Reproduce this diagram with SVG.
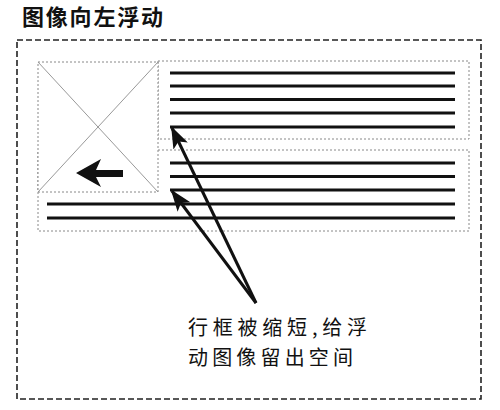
<svg xmlns="http://www.w3.org/2000/svg" width="500" height="410" viewBox="0 0 500 410">
<style>
.title{font-family:"Noto Sans CJK SC","Noto Sans",sans-serif;font-size:22px;font-weight:bold;fill:#111}
.label{font-family:"Noto Sans CJK SC","Noto Sans",sans-serif;font-size:20px;fill:#111}
.outer{fill:none;stroke:#222;stroke-width:1.6;stroke-dasharray:6 3}
.box{fill:none;stroke:#888;stroke-width:1;stroke-dasharray:2 2}
.line{stroke:#111;stroke-width:3}
.diag{stroke:#999;stroke-width:1}
.ptr{stroke:#111;stroke-width:3;fill:none;marker-end:url(#ah)}
</style>
<defs>
<marker id="ah" viewBox="0 0 22 16" refX="20" refY="8" markerWidth="22" markerHeight="16" markerUnits="userSpaceOnUse" orient="auto">
<path d="M0,0 L22,8 L0,16 L5,8 Z" fill="#111"/>
</marker>
</defs>
<rect width="500" height="410" fill="#fff"/>
<text class="title" x="22" y="25" textLength="141">图像向左浮动</text>
<rect class="outer" x="17" y="40" width="464" height="359"/>
<g id="lower-box">
<rect class="box" x="38" y="150" width="431" height="81"/>
<line class="line" x1="170" y1="163" x2="455" y2="163"/>
<line class="line" x1="170" y1="176.5" x2="455" y2="176.5"/>
<line class="line" x1="170" y1="190" x2="455" y2="190"/>
<line class="line" x1="47" y1="204" x2="455" y2="204"/>
<line class="line" x1="47" y1="218" x2="455" y2="218"/>
</g>
<g id="upper-box">
<rect class="box" x="158" y="61" width="311" height="78"/>
<line class="line" x1="170" y1="73" x2="455" y2="73"/>
<line class="line" x1="170" y1="86" x2="455" y2="86"/>
<line class="line" x1="170" y1="99.5" x2="455" y2="99.5"/>
<line class="line" x1="170" y1="113" x2="455" y2="113"/>
<line class="line" x1="170" y1="127" x2="455" y2="127"/>
</g>
<g id="image">
<rect x="38" y="62" width="120" height="130" fill="#fff" stroke="#888" stroke-width="1" stroke-dasharray="2 2"/>
<line class="diag" x1="38" y1="62" x2="158" y2="192"/>
<line class="diag" x1="158" y1="62" x2="38" y2="192"/>
<path d="M76,173 L101,159 L96,170 L123,170 L123,177 L96,177 L101,187 Z" fill="#111"/>
</g>
<g id="connectors">
<line class="ptr" x1="256" y1="303" x2="172" y2="128"/>
<line class="ptr" x1="256" y1="303" x2="172" y2="191"/>
</g>
<g id="label">
<text class="label"><tspan x="188" y="335" textLength="179">行框被缩短,给浮</tspan><tspan x="188" y="365" textLength="165">动图像留出空间</tspan></text>
</g>
</svg>
